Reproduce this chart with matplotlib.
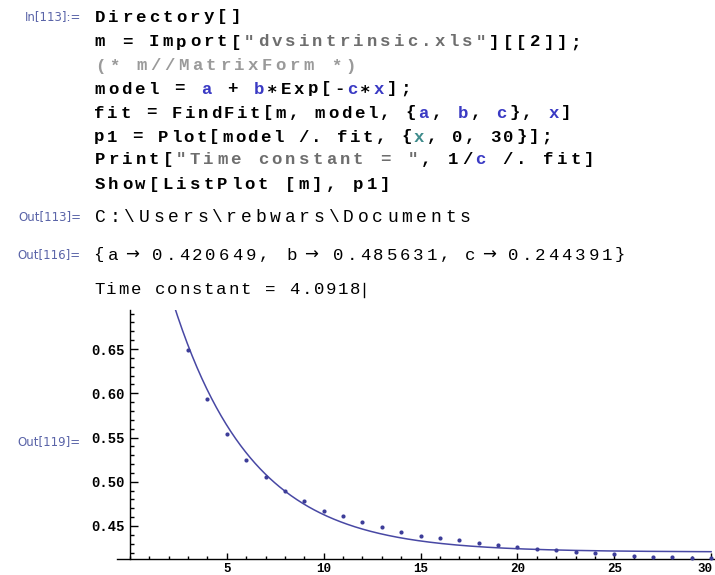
import numpy as np
import matplotlib
matplotlib.use("Agg")
import matplotlib.pyplot as plt
from matplotlib.lines import Line2D
from matplotlib.ticker import MultipleLocator, FormatStrFormatter
from matplotlib.transforms import ScaledTranslation

# ---- data -------------------------------------------------------------
x_points = [3, 4, 5, 6, 7, 8, 9, 10, 11, 12, 13, 14, 15, 16, 17, 18, 19, 20,
            21, 22, 23, 24, 25, 26, 27, 28, 29, 30]
y_points = [0.649, 0.593, 0.554, 0.525, 0.505, 0.490, 0.478, 0.467, 0.461,
            0.454, 0.449, 0.443, 0.439, 0.436, 0.434, 0.431, 0.428, 0.426,
            0.424, 0.423, 0.421, 0.4195, 0.418, 0.4165, 0.415, 0.415, 0.414,
            0.4135]

a_fit = 0.420649
b_fit = 0.485631
c_fit = 0.244391

x_major = [5, 10, 15, 20, 25, 30]
y_major = [0.45, 0.50, 0.55, 0.60, 0.65]

# ---- figure -----------------------------------------------------------
W, H = 715, 575
fig = plt.figure(figsize=(W / 100, H / 100), dpi=100)
fig.patch.set_facecolor("white")

MONO = ["Liberation Mono", "DejaVu Sans Mono", "DejaVu Sans"]
LABEL_FONT = ["DejaVu Sans"]

BLACK = "#000000"
SYM = "#3a3ac4"      # undefined symbols
LOCAL = "#3f8c8c"    # scoped variable
STR = "#6e6e6e"      # strings
CMT = "#9a9a9a"      # comments
LABEL = "#5a64a8"    # cell labels


def fxy(px, py):
    return px / W, 1 - py / H


def glyphs(py, x0, adv, segments, size=12.5, weight="bold"):
    """Lay out text one character per fixed-width cell."""
    i = 0
    for text, color in segments:
        for ch in text:
            if ch != " ":
                x, y = fxy(x0 + (i + 0.5) * adv, py)
                fig.text(x, y, ch, ha="center", va="center", color=color,
                         fontsize=size, fontweight=weight, family=MONO)
            i += 1


def cell_label(py, text):
    x, y = fxy(81, py)
    fig.text(x, y, text, ha="right", va="center", color=LABEL,
             fontsize=8.5, family=LABEL_FONT)


X0 = 93

# input cell
cell_label(17, "In[113]:=")
glyphs(17, X0, 13.6, [("Directory[]", BLACK)])
glyphs(42, X0, 13.6, [("m = Import[", BLACK), ('"dvsintrinsic.xls"', STR),
                      ("][[2]];", BLACK)])
glyphs(66, X0, 13.9, [("(* m//MatrixForm *)", CMT)])
glyphs(89, X0, 13.3, [("model = ", BLACK), ("a", SYM), (" + ", BLACK),
                      ("b", SYM), ("\u2217Exp[-", BLACK), ("c", SYM),
                      ("\u2217", BLACK), ("x", SYM), ("];", BLACK)])
glyphs(113, X0, 12.97, [("fit = FindFit[m, model, {", BLACK), ("a", SYM),
                        (", ", BLACK), ("b", SYM), (", ", BLACK), ("c", SYM),
                        ("}, ", BLACK), ("x", SYM), ("]", BLACK)])
glyphs(137, X0, 12.78, [("p1 = Plot[model /. fit, {", BLACK), ("x", LOCAL),
                        (", 0, 30}];", BLACK)])
glyphs(160, X0, 13.6, [("Print[", BLACK), ('"Time constant = "', STR),
                       (", 1/", BLACK), ("c", SYM), (" /. fit]", BLACK)])
glyphs(184, X0, 13.6, [("Show[ListPlot [m], p1]", BLACK)])

# outputs
cell_label(217, "Out[113]=")
glyphs(217, X0, 14.6, [("C:\\Users\\rebwars\\Documents", BLACK)],
       size=13, weight="normal")

cell_label(255, "Out[116]=")
fit_rules = [("a", a_fit, 113, 132, 157),
             ("b", b_fit, 292, 311, 338),
             ("c", c_fit, 470, 489, 513)]
x, y = fxy(98, 255)
fig.text(x, y, "{", ha="center", va="center", fontsize=12.5, family=MONO)
for k, (name, val, xn, xa, xv) in enumerate(fit_rules):
    x, y = fxy(xn, 255)
    fig.text(x, y, name, ha="center", va="center", fontsize=12.5,
             family=MONO)
    x, y = fxy(xa, 255)
    fig.text(x, y, "\u2192", ha="center", va="center", fontsize=12,
             family=["DejaVu Sans"])
    tail = "}" if k == len(fit_rules) - 1 else ","
    glyphs(255, xv - 6.65, 13.4, [(f"{val:.6f}" + tail, BLACK)],
           weight="normal")

tau_text = f"Time constant = {1 / c_fit:.4f}"
glyphs(290, X0, 12.2, [(tau_text, BLACK)], weight="normal")
fig.add_artist(Line2D([364 / W, 364 / W], [1 - 283 / H, 1 - 297 / H],
                      color="black", lw=1.0))

cell_label(442, "Out[119]=")

# ---- plot -------------------------------------------------------------
ppu = 19.37          # pixels per x unit
x_org = 130          # pixel of x = 0
left_px, right_px = 117, 725
top_px, bot_px = 310, 559
y_lo, y_hi = 0.4127, 0.6941

ax = fig.add_axes([left_px / W, 1 - bot_px / H, (right_px - left_px) / W,
                   (bot_px - top_px) / H])
ax.set_xlim((left_px - x_org) / ppu, (right_px - x_org) / ppu)
ax.set_ylim(y_lo, y_hi)
ax.patch.set_alpha(0)

for s in ("top", "right"):
    ax.spines[s].set_visible(False)
ax.spines["left"].set_position(("data", 0))
for s in ("left", "bottom"):
    ax.spines[s].set_linewidth(1.0)
    ax.spines[s].set_color("black")

ax.set_xticks(x_major)
ax.set_yticks(y_major)
ax.xaxis.set_minor_locator(MultipleLocator(1))
ax.yaxis.set_minor_locator(MultipleLocator(0.01))
ax.yaxis.set_major_formatter(FormatStrFormatter("%.2f"))
ax.tick_params(axis="both", which="both", direction="in", colors="black",
               width=1.0)
ax.tick_params(axis="x", which="major", length=4, pad=9.0)
ax.tick_params(axis="x", which="minor", length=2.2)
ax.tick_params(axis="y", which="major", length=5.5, pad=4)
ax.tick_params(axis="y", which="minor", length=3.2)
for lab in ax.get_yticklabels():
    lab.set_family(MONO)
    lab.set_fontsize(10)
    lab.set_fontweight("bold")
xlabs = ax.get_xticklabels()
for lab in xlabs:
    lab.set_family(MONO)
    lab.set_fontsize(9)
    lab.set_fontweight("bold")
    lab.set_verticalalignment("baseline")
# keep the last label inside the canvas edge
xlabs[-1].set_transform(xlabs[-1].get_transform() +
                        ScaledTranslation(-6 / 100, 0, fig.dpi_scale_trans))

LINE = "#4848a4"
xs = np.linspace(0, 30, 600)
ax.plot(xs, a_fit + b_fit * np.exp(-c_fit * xs), color=LINE, lw=1.1)
ax.plot(x_points, y_points, "o", ms=3.0, color="#3d3d99", mec="none",
        clip_on=False, zorder=3)

fig.savefig("out.png", dpi=100, facecolor="white")
